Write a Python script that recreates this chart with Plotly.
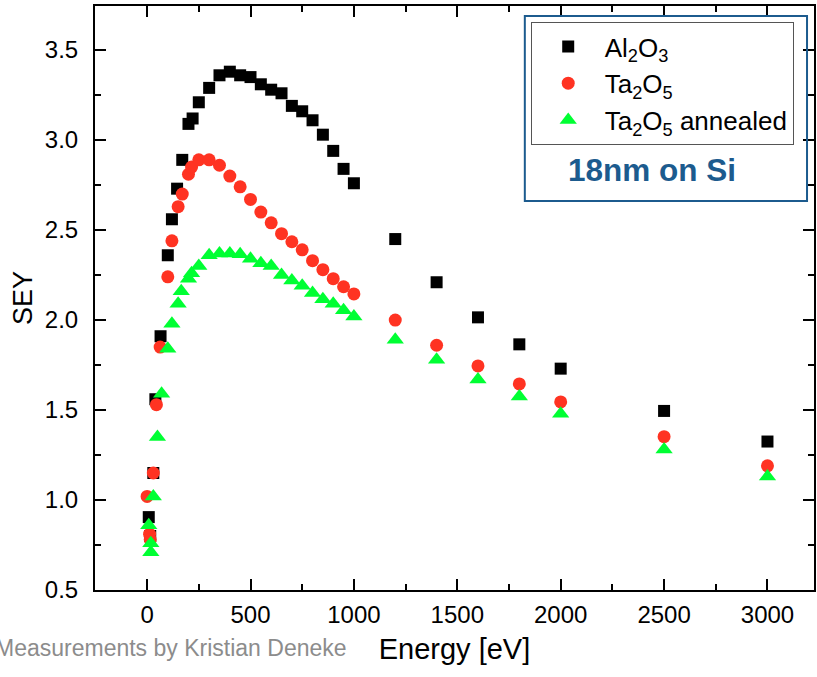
import plotly.graph_objects as go

# ---- data ----
al_energy = [8, 15, 30, 40, 65, 100, 120, 145, 170, 200, 220, 250, 300, 350, 400, 450, 500,
             550, 600, 650, 700, 750, 800, 850, 900, 950, 1000, 1200, 1400, 1600, 1800, 2000, 2500, 3000]
al_sey = [0.905, 0.80, 1.15, 1.56, 1.91, 2.36, 2.56, 2.73, 2.89, 3.09, 3.12, 3.21, 3.29, 3.36, 3.38, 3.36, 3.35,
          3.31, 3.28, 3.26, 3.19, 3.16, 3.11, 3.03, 2.94, 2.84, 2.76, 2.45, 2.21, 2.015, 1.865, 1.73, 1.495, 1.325]

ta_energy = [0, 12, 15, 30, 45, 63, 100, 120, 150, 170, 200, 215, 250, 300, 350, 400, 450, 500,
             550, 600, 650, 700, 750, 800, 850, 900, 950, 1000, 1200, 1400, 1600, 1800, 2000, 2500, 3000]
ta_sey = [1.02, 0.81, 0.78, 1.15, 1.53, 1.85, 2.24, 2.44, 2.63, 2.70, 2.81, 2.85, 2.89, 2.89, 2.86, 2.80, 2.74, 2.67,
          2.60, 2.54, 2.48, 2.435, 2.39, 2.33, 2.28, 2.23, 2.185, 2.145, 2.00, 1.86, 1.745, 1.645, 1.545, 1.352, 1.19]

tan_energy = [8, 18, 18, 30, 50, 70, 100, 120, 150, 165, 200, 215, 250, 300, 350, 400, 450, 500,
              550, 600, 650, 700, 750, 800, 850, 900, 950, 1000, 1200, 1400, 1600, 1800, 2000, 2500, 3000]
tan_sey = [0.86, 0.76, 0.71, 1.02, 1.35, 1.59, 1.84, 1.98, 2.09, 2.16, 2.23, 2.26, 2.30, 2.36, 2.37, 2.37, 2.365, 2.34,
           2.315, 2.30, 2.25, 2.22, 2.19, 2.15, 2.115, 2.09, 2.055, 2.02, 1.89, 1.78, 1.67, 1.575, 1.48, 1.28, 1.13]

names = ["Al<sub>2</sub>O<sub>3</sub>", "Ta<sub>2</sub>O<sub>5</sub>", "Ta<sub>2</sub>O<sub>5</sub> annealed"]
x_ticks = [0, 500, 1000, 1500, 2000, 2500, 3000]
y_ticks = [0.5, 1.0, 1.5, 2.0, 2.5, 3.0, 3.5]

FONT = "Liberation Sans, Arial, sans-serif"
BLUE = "#1c5b8e"

fig = go.Figure()
fig.add_trace(go.Scatter(x=al_energy, y=al_sey, mode="markers", name=names[0], legendgroup="a",
                         marker=dict(symbol="square", size=12, color="#000000")))
fig.add_trace(go.Scatter(x=ta_energy, y=ta_sey, mode="markers", name=names[1], legendgroup="b",
                         marker=dict(symbol="circle", size=13, color="#ff3322")))
fig.add_trace(go.Scatter(x=tan_energy, y=tan_sey, mode="markers", name=names[2], legendgroup="c",
                         marker=dict(symbol="triangle-up", size=15, color="#00ff33")))

axis_common = dict(
    showline=True, linecolor="black", linewidth=2, mirror="ticks",
    ticks="inside", ticklen=11, tickwidth=2, tickcolor="black",
    showgrid=False, zeroline=False,
    tickfont=dict(family=FONT, size=24, color="black"),
)

fig.update_xaxes(**axis_common, range=[-252, 3225], tickvals=x_ticks,
                 ticktext=[str(v) for v in x_ticks],
                 minor=dict(ticks="inside", ticklen=6, tickwidth=2, tickcolor="black", dtick=250),
                 ticklabelstandoff=2,
                 title=dict(text="Energy [eV]", font=dict(family=FONT, size=29, color="black"), standoff=12))
fig.update_yaxes(**axis_common, range=[0.5, 3.745], tickvals=y_ticks,
                 ticktext=[f"{v:.1f}" for v in y_ticks],
                 minor=dict(ticks="inside", ticklen=6, tickwidth=2, tickcolor="black", dtick=0.25),
                 ticklabelstandoff=10,
                 title=dict(text="SEY", font=dict(family=FONT, size=27, color="black"), standoff=4))

fig.update_layout(
    width=817, height=677,
    margin=dict(l=95, r=1, t=6, b=87),
    plot_bgcolor="white", paper_bgcolor="white",
    font=dict(family=FONT, color="black"),
    legend=dict(x=0.606, y=0.9726, xanchor="left", yanchor="top",
                bgcolor="white", bordercolor="#555555", borderwidth=1,
                font=dict(family=FONT, size=26, color="black"),
                itemwidth=63,
                traceorder="grouped", tracegroupgap=0),
    shapes=[dict(type="rect", xref="paper", yref="paper",
                 x0=0.5978, x1=0.9903, y0=0.6661, y1=0.9829,
                 line=dict(color=BLUE, width=2), fillcolor="rgba(0,0,0,0)")],
    annotations=[
        dict(text="<b>18nm on Si</b>", xref="paper", yref="paper", x=0.774, y=0.719,
             xanchor="center", yanchor="middle", showarrow=False,
             font=dict(family=FONT, size=31.5, color=BLUE)),
        dict(text="Measurements by Kristian Deneke", xref="paper", yref="paper",
             x=(350 - 95) / 721, y=(590 - 648) / 584, xanchor="right", yanchor="middle",
             showarrow=False, font=dict(family=FONT, size=23, color="#8c8c8c")),
    ],
)

fig.write_html("out.html")
